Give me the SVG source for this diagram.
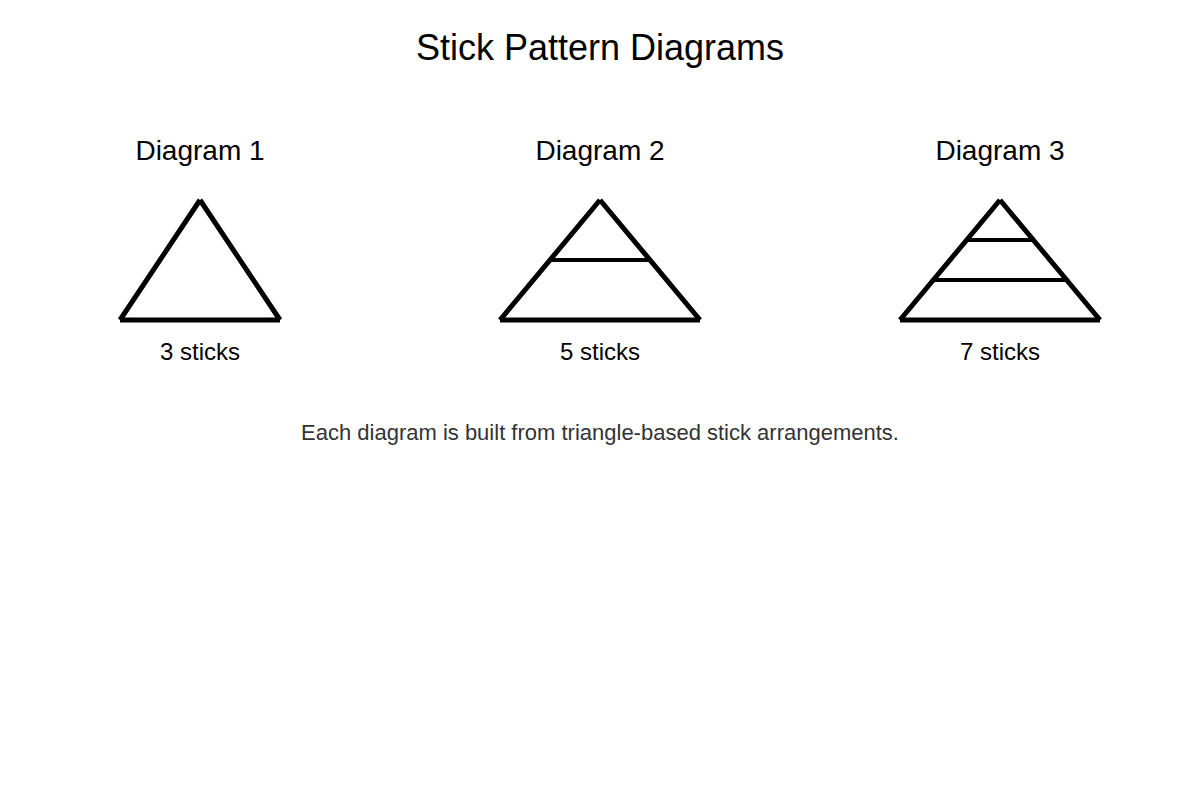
<svg xmlns="http://www.w3.org/2000/svg" width="1200" height="800" viewBox="0 0 1200 800">
<style>
text{font-family:"Liberation Sans",Arial,sans-serif;text-anchor:middle;fill:#000}
.title{font-size:36px}
.head{font-size:28px}
.cap{font-size:24px}
.note{font-size:22px;fill:#333}
.stick{stroke:#000;stroke-width:5;stroke-linecap:butt;fill:none}
.bar{stroke:#000;stroke-width:4;fill:none}
</style>
<rect width="1200" height="800" fill="#fff"/>
<text class="title" x="600" y="60">Stick Pattern Diagrams</text>
<g id="diagram1">
<text class="head" x="200" y="160">Diagram 1</text>
<line class="stick" x1="120" y1="320" x2="200" y2="200"/>
<line class="stick" x1="200" y1="200" x2="280" y2="320"/>
<line class="stick" x1="120" y1="320" x2="280" y2="320"/>
<text class="cap" x="200" y="360">3 sticks</text>
</g>
<g id="diagram2">
<text class="head" x="600" y="160">Diagram 2</text>
<line class="stick" x1="500" y1="320" x2="600" y2="200"/>
<line class="stick" x1="600" y1="200" x2="700" y2="320"/>
<line class="stick" x1="500" y1="320" x2="700" y2="320"/>
<line class="bar" x1="550" y1="260" x2="650" y2="260"/>
<text class="cap" x="600" y="360">5 sticks</text>
</g>
<g id="diagram3">
<text class="head" x="1000" y="160">Diagram 3</text>
<line class="stick" x1="900" y1="320" x2="1000" y2="200"/>
<line class="stick" x1="1000" y1="200" x2="1100" y2="320"/>
<line class="stick" x1="900" y1="320" x2="1100" y2="320"/>
<line class="bar" x1="967" y1="240" x2="1033" y2="240"/>
<line class="bar" x1="933" y1="280" x2="1067" y2="280"/>
<text class="cap" x="1000" y="360">7 sticks</text>
</g>
<text class="note" x="600" y="440">Each diagram is built from triangle-based stick arrangements.</text>
</svg>
